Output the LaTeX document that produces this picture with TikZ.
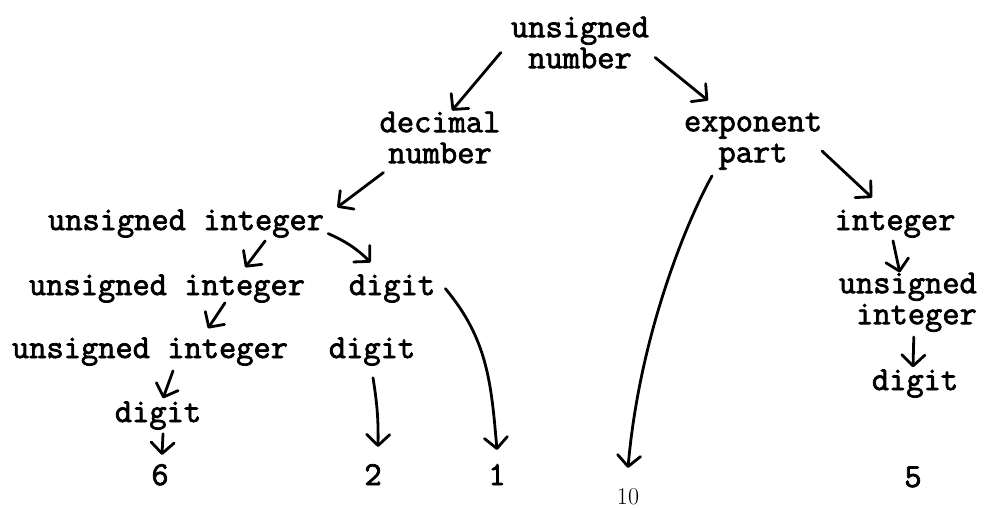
\documentclass[tikz,border=0pt]{standalone}
\usepackage{fontspec}
\usetikzlibrary{arrows.meta}
\newfontfamily\typefont{Latin Modern Mono}[FakeBold=2.2]
\newfontfamily\penfont{Latin Modern Roman}
\tikzstyle{word}=[
	inner sep=0pt,
	font=\fontsize{33.5}{31}\selectfont\typefont\bfseries
]
\tikzstyle{pair}=[
	word,
	align=center,
	anchor=north
]
\tikzstyle{leaf}=[
	word,
	anchor=base
]
\tikzstyle{hand}=[
	draw=black,
	line width=2.8pt,
	line cap=round,
	line join=round,
	-{Straight Barb[length=11pt,width=23pt,round]}
]
\begin{document}
\begin{tikzpicture}[x=1pt, y=-1pt]
\useasboundingbox (0,0) rectangle (984,508);

% upper part of the tree
\node[pair] (num) at (580,16.5) {unsigned\\number};
\node[pair] (dec) at (440,111.5) {decimal\\number};
\node[pair] (exp) at (753,112.5) {exponent\\part};

% left branch
\node[leaf] (ui1) at (186,230) {unsigned integer};
\node[leaf] (ui2) at (167,295) {unsigned integer};
\node[leaf] (dg4) at (392,295) {digit};
\node[leaf] (ui3) at (150,358) {unsigned integer};
\node[leaf] (dg5) at (372,358) {digit};
\node[leaf] (dg6) at (158,422) {digit};

% right branch
\node[leaf] (int) at (895,230) {integer};
\node[pair, align=right, anchor=north east] (uir) at (977,272.5) {unsigned\\integer};
\node[leaf] (dgr) at (915,390) {digit};

% the terminals
\foreach \d/\x in {6/160, 2/373, 1/497}{
    \node[leaf] (l\d) at (\x,485) {\d};
}
\node[leaf] (l5) at (913,487) {5};
\node[anchor=base, inner sep=0pt] (l10) at (628,504) {\fontsize{24}{24}\selectfont\penfont 10};

\draw[hand] ([shift={(-10,10)}]num.west) to ([shift={(12,-1)}]dec.north);
\draw[hand] ([shift={(6,15)}]num.east) to ([shift={(-45,-12)}]exp.north);
\draw[hand] ([shift={(4,9)}]dec.south west) to ([shift={(13,-2)}]ui1.north east);
\draw[hand] ([shift={(4,10)}]ui1.east) to[bend left=10] ([shift={(22,-12)}]dg4.north west);
\draw[hand] ([shift={(-59,3)}]ui1.south east) to ([shift={(-60,-7)}]ui2.north east);
\draw[hand] ([shift={(58,0)}]ui2.south) to ([shift={(58,-9)}]ui3.north);
\draw[hand] ([shift={(23,5)}]ui3.south) to ([shift={(5,-3)}]dg6.north);
\draw[hand] ([shift={(5,4)}]dg6.south) to ([shift={(2,-9)}]l6.north);
\draw[hand] ([shift={(1,12)}]dg5.south) to[bend left=5] ([shift={(5,-17)}]l2.north);
\draw[hand] ([shift={(10,0)}]dg4.east) to[out=-50, in=95] ([shift={(0,-14)}]l1.north);
\draw[hand] ([shift={(-41,6)}]exp.south) .. controls (690,215) and (640,330) .. ([shift={(0,-20)}]l10.north);
\draw[hand] ([shift={(0,10)}]exp.east) to ([shift={(-23,-12)}]int.north);
\draw[hand] ([shift={(-2,3)}]int.south) to ([shift={(-8,0)}]uir.north);
\draw[hand] ([shift={(6,5)}]uir.south) to ([shift={(-2,-2)}]dgr.north);
\end{tikzpicture}
\end{document}
